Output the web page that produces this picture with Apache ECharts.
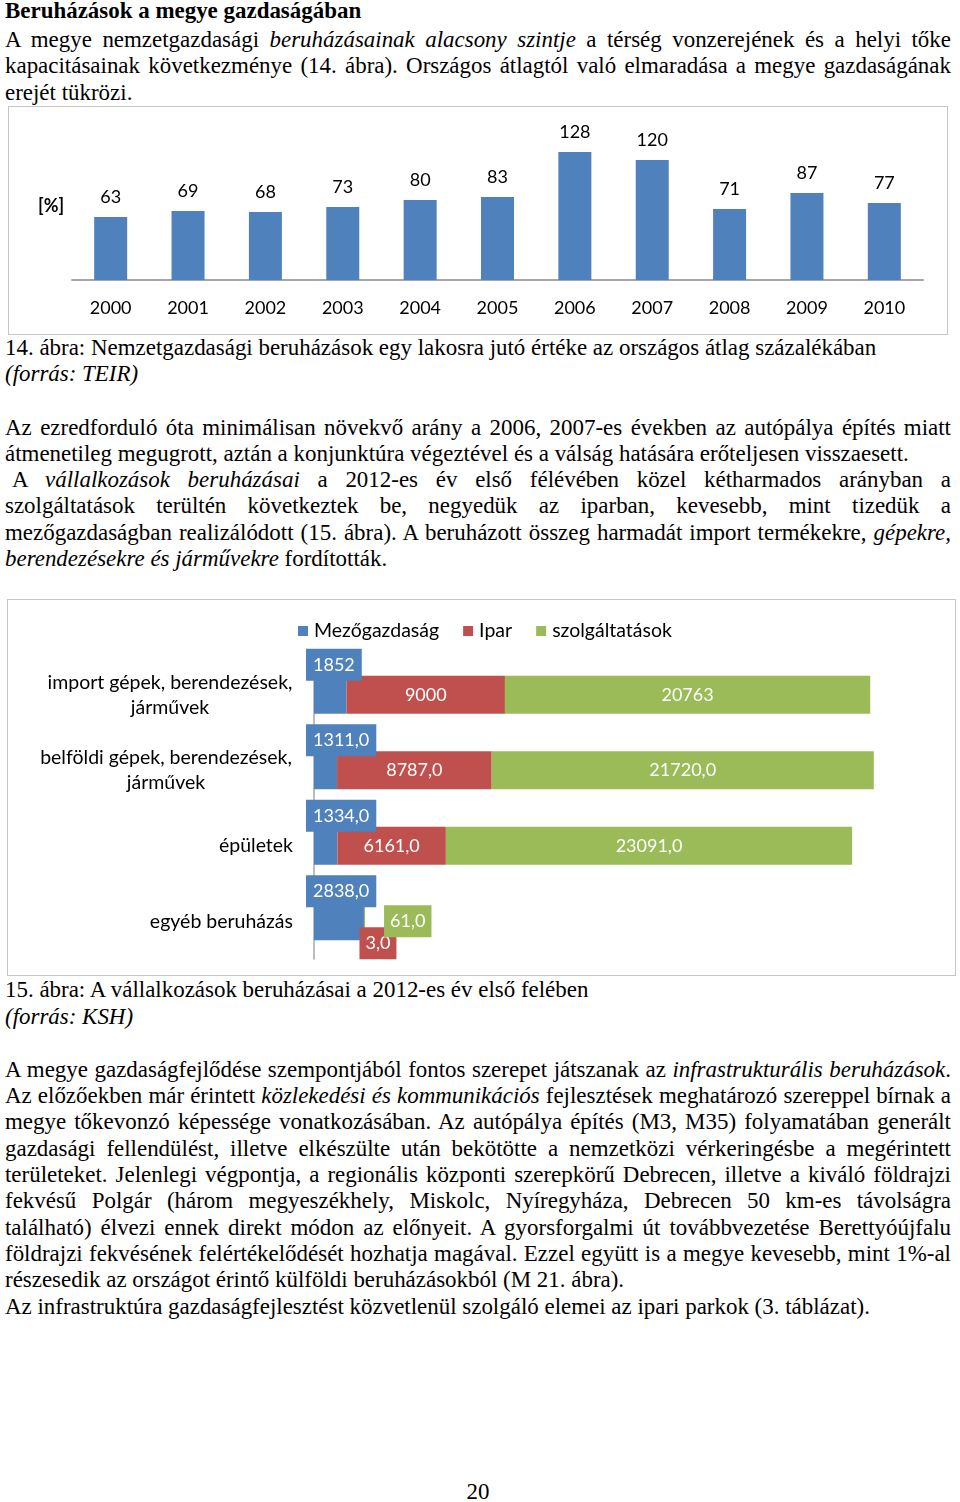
<!DOCTYPE html>
<html><head><meta charset="utf-8">
<script src="https://cdn.jsdelivr.net/npm/echarts@6/dist/echarts.min.js"></script>
<style>
body{margin:0;background:#fff;}
#page{position:relative;width:960px;height:1502px;font-family:"Liberation Serif","Times New Roman",serif;color:#000;overflow:hidden;}
.ln{position:absolute;left:5px;white-space:nowrap;line-height:26px;height:26px;}
.j{width:946px;text-align:justify;text-align-last:justify;}
.frame{position:absolute;border:1px solid #c6c6c6;box-sizing:border-box;background:#fff;}
i{font-style:italic;}
</style></head>
<body>
<div id="page"></div>
<script>
// ---------- data ----------
var years = ['2000','2001','2002','2003','2004','2005','2006','2007','2008','2009','2010'];
var pctValues = [63, 69, 68, 73, 80, 83, 128, 120, 71, 87, 77];

var invCategories = ['import gépek, berendezések,\njárművek', 'belföldi gépek, berendezések,\njárművek', 'épületek', 'egyéb beruházás'];
var seriesNames = ['Mezőgazdaság', 'Ipar', 'szolgáltatások'];
var mezogazdasag = [1852, 1311, 1334, 2838];
var ipar = [9000, 8787, 6161, 3];
var szolgaltatasok = [20763, 21720, 23091, 61];

// ---------- text ----------
var lines = [
  {y:11, html:'<b>Beruházások a megye gazdaságában</b>'},
  {y:40, j:1, html:'A megye nemzetgazdasági <i>beruházásainak alacsony szintje</i> a térség vonzerejének és a helyi tőke'},
  {y:66, j:1, html:'kapacitásainak következménye (14. ábra). Országos átlagtól való elmaradása a megye gazdaságának'},
  {y:93, html:'erejét tükrözi.'},
  {y:348, html:'14. ábra: Nemzetgazdasági beruházások egy lakosra jutó értéke az országos átlag százalékában', fit:872},
  {y:374, html:'<i>(forrás: TEIR)</i>'},
  {y:428, j:1, html:'Az ezredforduló óta minimálisan növekvő arány a 2006, 2007-es években az autópálya építés miatt'},
  {y:454, html:'átmenetileg megugrott, aztán a konjunktúra végeztével és a válság hatására erőteljesen visszaesett.'},
  {y:480, j:1, x:12, html:'A <i>vállalkozások beruházásai</i> a 2012-es év első félévében közel kétharmados arányban a'},
  {y:506, j:1, html:'szolgáltatások terültén következtek be, negyedük az iparban, kevesebb, mint tizedük a'},
  {y:533, j:1, html:'mezőgazdaságban realizálódott (15. ábra). A beruházott összeg harmadát import termékekre, <i>gépekre,</i>'},
  {y:559, html:'<i>berendezésekre és járművekre</i> fordították.'},
  {y:990, html:'15. ábra: A vállalkozások beruházásai a 2012-es év első felében'},
  {y:1017, html:'<i>(forrás: KSH)</i>'},
  {y:1070, j:1, html:'A megye gazdaságfejlődése szempontjából fontos szerepet játszanak az <i>infrastrukturális beruházások</i>.'},
  {y:1096, j:1, html:'Az előzőekben már érintett <i>közlekedési és kommunikációs</i> fejlesztések meghatározó szereppel bírnak a'},
  {y:1122, j:1, html:'megye tőkevonzó képessége vonatkozásában. Az autópálya építés (M3, M35) folyamatában generált'},
  {y:1149, j:1, html:'gazdasági fellendülést, illetve elkészülte után bekötötte a nemzetközi vérkeringésbe a megérintett'},
  {y:1175, j:1, html:'területeket. Jelenlegi végpontja, a regionális központi szerepkörű Debrecen, illetve a kiváló földrajzi'},
  {y:1201, j:1, html:'fekvésű Polgár (három megyeszékhely, Miskolc, Nyíregyháza, Debrecen 50 km-es távolságra'},
  {y:1228, j:1, html:'található) élvezi ennek direkt módon az előnyeit. A gyorsforgalmi út továbbvezetése Berettyóújfalu'},
  {y:1254, j:1, html:'földrajzi fekvésének felértékelődését hozhatja magával. Ezzel együtt is a megye kevesebb, mint 1%-al'},
  {y:1280, html:'részesedik az országot érintő külföldi beruházásokból (M 21. ábra).'},
  {y:1307, html:'Az infrastruktúra gazdaságfejlesztést közvetlenül szolgáló elemei az ipari parkok (3. táblázat).'},
  {y:1492, html:'20', center:1}
];

var page = document.getElementById('page');
var cv = document.createElement('canvas').getContext('2d');
cv.font = '100px "Liberation Serif"';
var fitLine = lines[4];
var fs = 100 * fitLine.fit / cv.measureText(fitLine.html).width;
page.style.fontSize = fs + 'px';

lines.forEach(function(l){
  var d = document.createElement('div');
  d.className = 'ln' + (l.j ? ' j' : '');
  d.style.top = (l.y - 13) + 'px';
  if (l.x) { d.style.left = l.x + 'px'; if (l.j) d.style.width = (951 - l.x) + 'px'; }
  if (l.center) { d.style.left = '0'; d.style.width = '956px'; d.style.textAlign = 'center'; }
  d.innerHTML = l.html;
  page.appendChild(d);
});

function box(id, x, y, w, h){
  var f = document.createElement('div');
  f.className = 'frame';
  f.style.left = x + 'px'; f.style.top = y + 'px'; f.style.width = w + 'px'; f.style.height = h + 'px';
  var c = document.createElement('div');
  c.id = id; c.style.width = '100%'; c.style.height = '100%';
  f.appendChild(c); page.appendChild(f);
  return c;
}

var FONT = 'Lato';
var BLUE = '#4F81BD', RED = '#C0504D', GREEN = '#9BBB59';

// ---------- chart 1 ----------
var c1 = echarts.init(box('c1', 8, 106, 940, 229), null, {renderer:'canvas'});
c1.setOption({
  animation:false,
  grid:{left:63, right:24, top:33, bottom:54},
  xAxis:{type:'category', data:years,
    axisLine:{lineStyle:{color:'#a6a6a6', width:2}}, axisTick:{show:false},
    axisLabel:{fontFamily:FONT, fontSize:18, color:'#000', margin:19}},
  yAxis:{type:'value', min:0, max:140, show:false},
  series:[{type:'bar', data:pctValues, barWidth:33, itemStyle:{color:BLUE},
    label:{show:true, position:'top', distance:11, fontFamily:FONT, fontSize:18, color:'#000'}}],
  graphic:[{type:'text', left:29, top:90, style:{text:'[%]', fontFamily:FONT, fontSize:18, fontWeight:'bold', fill:'#000'}}]
});

// ---------- chart 2 ----------
function fmt(p){ return p.dataIndex === 0 ? String(p.value) : p.value.toFixed(1).replace('.', ','); }
var lblBase = {show:true, fontFamily:FONT, fontSize:18, color:'#fff', formatter:fmt};
var CF = 19.5;

var c2 = echarts.init(box('c2', 7, 599, 949, 377), null, {renderer:'canvas'});
c2.setOption({
  animation:false,
  color:[BLUE, RED, GREEN],
  legend:{top:16, left:285, itemWidth:10, itemHeight:10, itemGap:24, icon:'rect',
    textStyle:{fontFamily:FONT, fontSize:CF, color:'#000', padding:[0,0,0,1]}},
  grid:{left:306, right:78, top:57, bottom:16},
  xAxis:{type:'value', min:0, max:32000, show:false},
  yAxis:{type:'category', data:invCategories, inverse:true,
    axisLine:{lineStyle:{color:'#a6a6a6', width:1.5}}, axisTick:{show:false},
    axisLabel:{margin:21, fontFamily:FONT, fontSize:CF, color:'#000', lineHeight:25,
      formatter:function(v, i){
        if (i < 2) return v.split('\n').map(function(s){ return '{c' + i + '|' + s + '}'; }).join('\n');
        return '{r|' + v + '}';
      },
      rich:{
        c0:{width:246, align:'center', fontFamily:FONT, fontSize:CF, color:'#000', lineHeight:25},
        c1:{width:254, align:'center', fontFamily:FONT, fontSize:CF, color:'#000', lineHeight:25},
        r:{fontFamily:FONT, fontSize:CF, color:'#000', lineHeight:25}
      }}},
  series:[
    {name:seriesNames[0], type:'bar', stack:'t', barWidth:38, data:mezogazdasag,
      label:Object.assign({}, lblBase, {position:[-8, 5], align:'left', verticalAlign:'bottom', backgroundColor:BLUE, padding:[7,7]})},
    {name:seriesNames[1], type:'bar', stack:'t', barWidth:38,
      data:ipar.map(function(v, i){
        return i === 3 ? {value:v, label:{position:'bottom', distance:-13, offset:[14,0], backgroundColor:RED, padding:[7,6]}} : v;
      }),
      label:Object.assign({}, lblBase, {position:'inside'})},
    {name:seriesNames[2], type:'bar', stack:'t', barWidth:38,
      data:szolgaltatasok.map(function(v, i){
        return i === 3 ? {value:v, label:{position:'right', distance:19, backgroundColor:GREEN, padding:[7,6]}} : v;
      }),
      label:Object.assign({}, lblBase, {position:'inside'})}
  ]
});
</script>
</body></html>
